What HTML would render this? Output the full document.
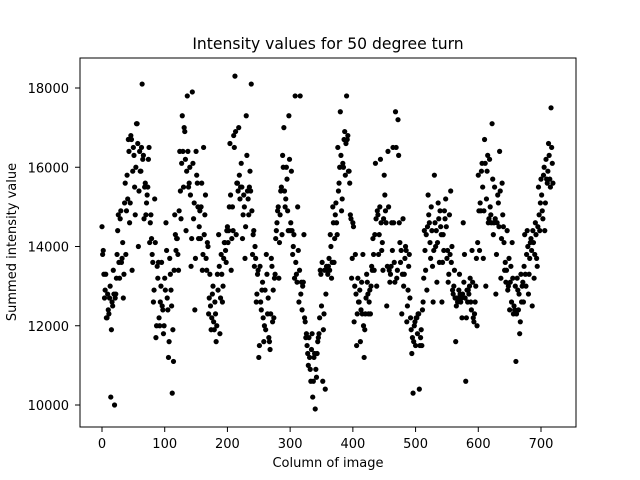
<!DOCTYPE html>
<html><head><meta charset="utf-8"><style>
body{margin:0;background:#fff;}
svg{display:block;font-family:"DejaVu Sans","Liberation Sans",sans-serif;}
</style></head><body>
<svg id="chart" width="640" height="480">
<rect width="640" height="480" fill="#fff"/>
<text x="328" y="49" font-size="15.6" text-anchor="middle">Intensity values for 50 degree turn</text>
<text x="328" y="467" font-size="13" text-anchor="middle">Column of image</text>
<text transform="translate(16,242) rotate(-90)" font-size="13" text-anchor="middle">Summed intensity value</text>
<g id="points"></g>
<g id="xticks"></g>
<g id="yticks"></g>
<rect x="80" y="58" width="496" height="369" fill="none" stroke="#000" stroke-width="1"/>
</svg>
<script>
const xStart = 0;
const xStep = 2;
const intensityEven = [
14500,13900,12700,13300,12200,12400,12700,10200,12600,13400,
10000,12800,13800,14800,13200,14900,13700,12700,15100,13800,
15800,16700,14600,16800,13400,16500,15500,16000,17100,14000,
16400,15900,18100,16300,15500,14800,15300,16200,14100,14800,
13800,12600,15200,11700,13500,13600,12000,13000,12500,11800,
13200,14600,12700,11200,13700,12900,10300,11100,14800,13900,
14200,13400,16400,14700,17300,15500,16900,14400,17800,15500,
16000,13500,17900,14700,12400,16400,15600,14200,14900,15000,
13400,16500,14800,13700,14100,12300,13300,11900,12800,12100,
12600,11600,13300,14300,11800,13800,12600,13700,14100,13600,
14500,14400,16600,13400,15000,16800,18300,14300,15600,17000,
15200,16100,14200,15300,13700,17300,15400,14800,15900,18100,
13800,14400,14000,12600,13300,11200,13500,12400,13100,11600,
12900,13800,12300,11700,11400,13700,12100,12200,13300,14400,
14900,13200,14800,15500,16300,17000,15000,16000,14900,17300,
14400,15900,13800,14300,17800,13300,15000,12600,17800,13100,
13000,14300,12100,11800,11300,11700,10900,11400,10200,11200,
9900,10700,11600,11800,13400,12500,10600,12300,10400,13500,
13300,13700,14300,13200,15000,13600,14800,14600,16500,15600,
17400,14900,16100,16700,15800,17800,16800,15900,14800,13200,
14600,12100,13800,11500,13200,12600,11600,13100,13800,11200,
12300,13300,12800,12600,12300,13500,14200,13400,16100,13000,
14800,14300,16200,13900,13400,15800,14900,12500,16400,13400,
13300,14600,16500,13600,17400,13200,17200,14600,13600,12300,
14700,13300,14000,12100,12900,13800,12200,11300,10300,12000,
11500,12200,12300,10400,11700,11500,12600,14400,13400,12900,
15300,14600,13700,14400,12600,15800,14000,13100,15100,13600,
14500,12600,14300,14900,15200,13700,13100,14800,15400,14000,
12800,13400,11600,12700,12700,13300,12600,12200,14600,13800,
10600,12900,12900,13000,12600,13900,12200,12300,13000,12000,
15800,13900,14900,16100,13700,16700,13000,15900,14600,16200,
14800,17100,14300,15500,12800,14600,15100,16400,13200,15600,
14500,13400,13100,14400,13000,12400,13500,14100,12300,12400,
11100,13200,12400,11800,13300,13000,12600,14300,13000,14400,
12800,13700,14200,12500,14100,13800,14300,13500,15500,14400,
15700,14900,15800,14400,16200,15600,16600,15700,17500,16100
];
const intensityOdd = [
13800,13300,12900,12200,12800,12300,13000,11900,12500,12800,
12700,13200,14400,13600,14700,13600,14100,13300,15600,14900,
15200,16400,15100,16700,15900,16300,14800,17100,16600,15400,
15900,16500,16200,14700,15600,15100,15500,16500,14600,14200,
13600,12900,14100,12000,13200,12200,12600,13600,12400,12000,
12900,13900,12400,11600,13300,12500,11900,13400,14300,14200,
13800,14900,15400,16100,16400,17000,16200,15900,16400,15600,
15300,14200,16100,15100,13700,15800,15000,14500,14200,15600,
13800,14300,15300,13400,14000,12700,12500,12200,13000,11900,
12300,12000,12900,13500,12700,13300,13000,14100,13900,14400,
14100,15000,15300,14200,14400,16500,16900,15600,15400,15800,
15500,15500,14800,15000,14500,16300,15200,15500,15400,14900,
14300,13500,13700,12800,13400,11500,12600,12900,12200,12000,
11900,13300,12700,11600,12300,13500,12900,13200,14200,14600,
15000,14100,15400,14300,16000,15400,15200,15700,14400,16200,
14600,14400,14000,13200,13600,13100,13900,13400,12800,12400,
13100,12200,11700,11500,11000,11200,10600,11800,10600,11300,
10900,11300,11700,12200,13300,13600,11900,13400,12800,13400,
13500,13400,14000,13600,14600,14200,15100,14300,15400,16000,
16300,15200,16000,16900,16600,16700,15900,15600,14700,13700,
14500,13000,12800,12300,12600,12900,12400,12300,12000,11900,
12700,13100,12300,12900,13000,13400,13800,14300,14700,14900,
13800,15000,14600,14100,14700,15300,14600,13500,15000,13100,
13500,13900,14600,13100,16500,13400,16300,14100,13900,13300,
13000,13700,13900,12500,13500,12700,11900,11700,11600,12100,
12200,11800,12300,11500,11900,12400,13200,13900,14300,14500,
14800,14100,15000,13500,13900,14600,14400,14100,14700,14900,
14300,13600,13900,14700,14500,13900,13300,13800,13600,12900,
13000,12700,12500,12600,12900,12800,12700,12800,13100,12700,
12200,12600,12800,13200,12400,13100,12100,12600,13700,14100,
14900,15100,15900,15500,14900,16100,15200,16300,14700,15000,
14600,15700,14600,14700,13800,15300,14500,15400,14200,14800,
14100,13600,13400,12900,13700,13100,12600,13200,12500,13000,
12300,12900,12800,12100,12600,13100,13500,13300,13800,14000,
13300,14100,13900,14400,13200,14600,13700,14500,14800,15100,
15300,14700,16000,15100,15700,15900,16300,15500,16500,15600
];
const xTickLabels = [0,100,200,300,400,500,600,700];
const yTickLabels = [10000,12000,14000,16000,18000];

const NS = "http://www.w3.org/2000/svg";
function xs(v){ return 102 + (v - 0) * (541 - 102) / 700; }
function ys(v){ return 405 - (v - 10000) * (405 - 88) / 8000; }

const pts = document.getElementById('points');
function addPoint(col, v){
  const c = document.createElementNS(NS, 'circle');
  c.setAttribute('cx', xs(col));
  c.setAttribute('cy', ys(v));
  c.setAttribute('r', 2.6);
  c.setAttribute('fill', '#000');
  
  
  pts.appendChild(c);
}
intensityEven.forEach((v, i) => addPoint(xStart + i * xStep, v));
intensityOdd.forEach((v, i) => addPoint(xStart + 1 + i * xStep, v));

const xg = document.getElementById('xticks');
xTickLabels.forEach(t => {
  const x = xs(t);
  const l = document.createElementNS(NS, 'line');
  l.setAttribute('x1', x); l.setAttribute('x2', x);
  l.setAttribute('y1', 427); l.setAttribute('y2', 432);
  l.setAttribute('stroke', '#000');
  
  
  xg.appendChild(l);
  const tx = document.createElementNS(NS, 'text');
  tx.setAttribute('x', x); tx.setAttribute('y', 448);
  tx.setAttribute('font-size', '13');
  tx.setAttribute('text-anchor', 'middle');
  tx.textContent = t;
  
  
  xg.appendChild(tx);
});

const yg = document.getElementById('yticks');
yTickLabels.forEach(t => {
  const y = ys(t);
  const l = document.createElementNS(NS, 'line');
  l.setAttribute('x1', 75); l.setAttribute('x2', 80);
  l.setAttribute('y1', y); l.setAttribute('y2', y);
  l.setAttribute('stroke', '#000');
  
  
  yg.appendChild(l);
  const tx = document.createElementNS(NS, 'text');
  tx.setAttribute('x', 69); tx.setAttribute('y', y + 5);
  tx.setAttribute('font-size', '13');
  tx.setAttribute('text-anchor', 'end');
  tx.textContent = t;
  
  
  yg.appendChild(tx);
});
</script>
</body></html>
